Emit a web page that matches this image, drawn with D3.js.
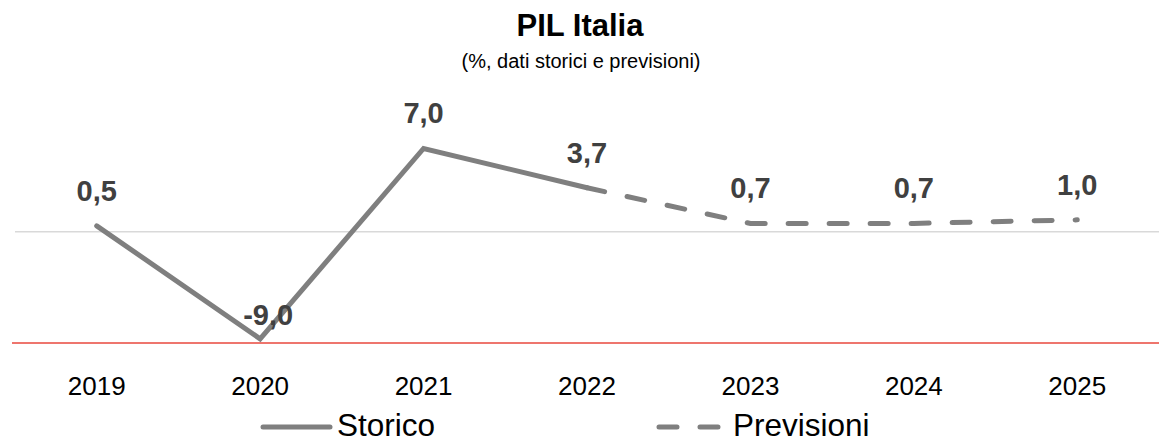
<!DOCTYPE html>
<meta charset="utf-8">
<style>
body { margin: 0; background: #fff; }
text { font-family: "Liberation Sans", Arial, sans-serif; }
</style>
<svg width="1159" height="438"></svg>
<script src="https://d3js.org/d3.v7.min.js"></script>
<script>
// data
var years = ["2019", "2020", "2021", "2022", "2023", "2024", "2025"];
var storico = [0.5, -9.0, 7.0, 3.7, null, null, null];
var previsioni = [null, null, null, 3.7, 0.7, 0.7, 1.0];
var valori = [0.5, -9.0, 7.0, 3.7, 0.7, 0.7, 1.0];

var svg = d3.select("svg"),
    width = +svg.attr("width"),
    height = +svg.attr("height");

var it = d3.formatLocale({decimal: ",", thousands: ".", grouping: [3], currency: ["", "€"], minus: "-"});
var fmt = it.format(".1f");

var x = d3.scaleBand().domain(years).range([15, 1159]);
var y = d3.scaleLinear().domain([-9.35, 8]).range([343, 136.6]);
var cx = function(i) { return x(years[i]) + x.bandwidth() / 2; };

// titles
svg.append("text").attr("x", 580).attr("y", 36).attr("text-anchor", "middle")
  .style("font-size", "31px").style("font-weight", "bold").text("PIL Italia");
svg.append("text").attr("x", 581).attr("y", 68).attr("text-anchor", "middle")
  .style("font-size", "20px").text("(%, dati storici e previsioni)");

// zero gridline + red axis
svg.append("line").attr("x1", 15).attr("x2", 1159).attr("y1", y(0)).attr("y2", y(0))
  .attr("stroke", "#d9d9d9").attr("stroke-width", 1.5);
svg.append("line").attr("x1", 12).attr("x2", 1159).attr("y1", y(-9.35)).attr("y2", y(-9.35))
  .attr("stroke", "#e8473c").attr("stroke-width", 1.5);

var line = d3.line()
  .defined(function(d) { return d != null; })
  .x(function(d, i) { return cx(i); })
  .y(function(d) { return y(d); });

svg.append("path").datum(previsioni).attr("d", line)
  .attr("fill", "none").attr("stroke", "#7f7f7f").attr("stroke-width", 5)
  .attr("stroke-linecap", "round").attr("stroke-dasharray", "18,23");
svg.append("path").datum(storico).attr("d", line)
  .attr("fill", "none").attr("stroke", "#7f7f7f").attr("stroke-width", 5)
  .attr("stroke-linejoin", "miter").attr("stroke-linecap", "round");

// data labels (the lowest one sits inside the plot, as in the original)
svg.append("g").selectAll("text").data(valori).enter().append("text")
  .attr("x", function(d, i) { return d < 0 ? cx(i) + 8 : cx(i); })
  .attr("y", function(d) { return d < 0 ? y(d) - 14 : y(d) - 25; })
  .attr("text-anchor", "middle")
  .style("font-size", "29px").style("font-weight", "bold").attr("fill", "#404040")
  .text(function(d) { return fmt(d); });

// x labels
svg.append("g").selectAll("text").data(years).enter().append("text")
  .attr("x", function(d) { return x(d) + x.bandwidth() / 2; })
  .attr("y", 395).attr("text-anchor", "middle")
  .style("font-size", "26px").attr("fill", "#000")
  .text(function(d) { return d; });

// legend
var lg = svg.append("g");
lg.append("line").attr("x1", 263).attr("x2", 330).attr("y1", 427).attr("y2", 427)
  .attr("stroke", "#7f7f7f").attr("stroke-width", 5).attr("stroke-linecap", "round");
lg.append("text").attr("x", 337).attr("y", 436).style("font-size", "31.5px").text("Storico");
lg.append("line").attr("x1", 659).attr("x2", 720).attr("y1", 427).attr("y2", 427)
  .attr("stroke", "#7f7f7f").attr("stroke-width", 5).attr("stroke-linecap", "round")
  .attr("stroke-dasharray", "18,23");
lg.append("text").attr("x", 733).attr("y", 436).style("font-size", "31.5px").text("Previsioni");
</script>
